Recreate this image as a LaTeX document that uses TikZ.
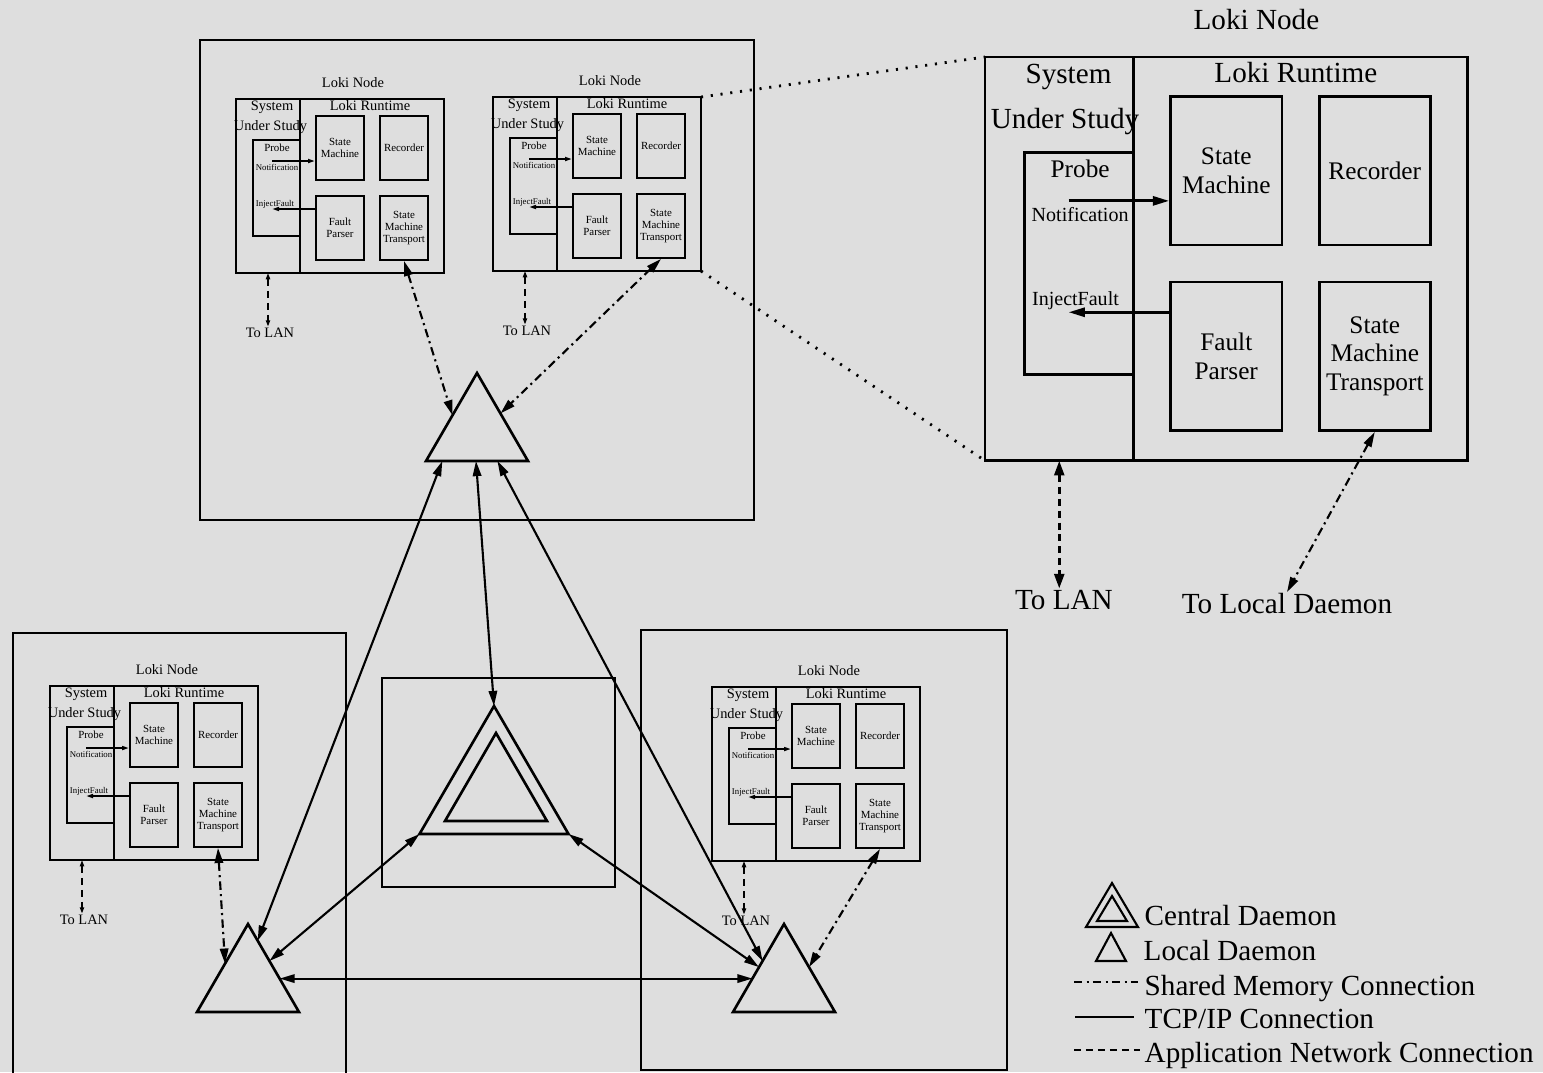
\documentclass[tikz,border=0pt]{standalone}
\usepackage{fontspec}
\setmainfont{Liberation Serif}
\usetikzlibrary{arrows.meta,calc}

\newcommand{\fsz}[1]{\fontsize{#1pt}{1.12\dimexpr#1pt\relax}\selectfont}

\tikzset{
  host/.style={line width=0.8pt},
  daemon/.style={line width=0.75pt, line join=miter},
  tcp/.style={line width=0.6pt, <->},
  shmem/.style={line width=0.6pt, dash pattern=on 2.4pt off 1.2pt on 0.6pt off 1.2pt},
  appnet/.style={dash pattern=on 2pt off 1.4pt},
  zoomline/.style={line width=0.8pt, dash pattern=on 0.6pt off 2.2pt},
  txt/.style={inner sep=0pt, anchor=base},
  part/.style={draw, inner sep=0pt, align=center},
  bigtxt/.style={inner sep=0pt, anchor=base, font=\fsz{8.3}}
}

% one Loki node: name, top left corner, scale, title size, box size, probe size
\newcommand{\lokinode}[6]{%
  \pgfmathsetmacro\lkw{0.3+0.22*#3}%
  \pgfmathsetmacro\lkbw{4.8*#3}%
  \pgfmathsetmacro\lkbh{6.4*#3}%
  \begin{scope}[shift={(#2)}, scale=#3, line width=\lkw pt]
    \draw (0,0) coordinate (#1-nw) rectangle (208,174) coordinate (#1-se);
    \coordinate (#1-ne) at (208,0);
    \coordinate (#1-sw) at (0,174);
    \draw (64,0) -- (64,174);
    \draw (64,41) -- (17,41) -- (17,137) -- (64,137);
    \node[txt, font=\fsz{#4}] (#1-title) at (117,-12) {Loki Node};
    \node[txt, font=\fsz{#4}] (#1-sys) at (36,11.5) {System};
    \node[txt, font=\fsz{#4}] (#1-under) at (34.5,31) {Under Study};
    \node[txt, font=\fsz{#4}] (#1-rt) at (134,11) {Loki Runtime};
    \node[txt, font=\fsz{#5}] (#1-probe) at (41,52) {Probe};
    \node[txt, font=\fsz{#6}] (#1-notif) at (41,71) {Notification};
    \node[txt, font=\fsz{#6}] (#1-inject) at (39,107) {InjectFault};
    % runtime parts
    \begin{scope}[every node/.style={part, font=\fsz{#5}, minimum width=\lkbw mm, minimum height=\lkbh mm}]
      \node (#1-sm) at (104,49) {State\\Machine};
      \node (#1-rec) at (168,49) {Recorder};
      \node (#1-fp) at (104,129) {Fault\\Parser};
      \node (#1-smt) at (168,129) {State\\Machine\\Transport};
    \end{scope}
    \coordinate (#1-out) at (36,62);
    \coordinate (#1-in) at (36,110);
    \draw[-{Triangle[length=2pt,width=1.1pt,scale=#3]}] (#1-out) -- (#1-out -| #1-sm.west);
    \draw[-{Triangle[length=2pt,width=1.1pt,scale=#3]}] (#1-in -| #1-fp.west) -- (#1-in);
    % to the LAN
    \node[txt, font=\fsz{#4}] (#1-tolan) at (34,238) {To LAN};
    \coordinate (#1-lan) at (32,174);
    \draw[appnet, {Triangle[length=1.8pt,width=1.2pt,scale=#3]}-{Triangle[length=1.8pt,width=1.2pt,scale=#3]}]
      (#1-lan) -- (#1-lan |- #1-tolan.north);
  \end{scope}}

% a daemon triangle: name, apex
\newcommand{\daemon}[2]{%
  \draw[daemon] (#2) coordinate (#1-t) -- ++(-51,88) coordinate (#1-l)
    -- ++(102,0) coordinate (#1-r) -- cycle;}

\begin{document}
\begin{tikzpicture}[x=0.1mm, y=-0.1mm, >={Triangle[length=4.3pt,width=2.4pt]}]
  \useasboundingbox (0,0) rectangle (1543,1072);
  \fill[black!13] (0,0) rectangle (1543,1072);

  % hosts
  \draw[host] (200,40) rectangle (754,520);
  \draw[host] (13,633) rectangle (346,1085);
  \draw[host] (641,630) rectangle (1007,1070);
  \draw[host] (382,678) rectangle (615,887);

  % loki nodes
  \lokinode{lkA}{236,99}{1}{4.1}{3.1}{2.5}
  \lokinode{lkB}{493,97}{1}{4.1}{3.1}{2.5}
  \lokinode{lkC}{50,686}{1}{4.1}{3.1}{2.5}
  \lokinode{lkD}{712,687}{1}{4.1}{3.1}{2.5}
  \lokinode{lkE}{985,57}{2.32}{8.3}{7.2}{5.7}

  \draw[zoomline] (lkB-ne) -- (lkE-nw);
  \draw[zoomline] (lkB-se) -- (lkE-sw);
  \node[bigtxt] (todaemon) at (1287,613) {To Local Daemon};
  \draw[shmem, <->] (lkE-smt.south) -- (todaemon.north);

  % daemons
  \daemon{dT}{477,373}
  \daemon{dL}{248,924}
  \daemon{dR}{784,924}
  \draw[daemon] (494,706) coordinate (dC-t) -- ++(-74.5,128) coordinate (dC-l)
    -- ++(149,0) coordinate (dC-r) -- cycle;
  \daemon{dCin}{496,733}

  % shared memory
  \draw[shmem, <->] (lkA-smt.south) -- ($(dT-t)!0.48!(dT-l)$);
  \draw[shmem, <->] (lkB-smt.south) -- ($(dT-t)!0.46!(dT-r)$);
  \draw[shmem, <->] (lkC-smt.south) -- ($(dL-t)!0.45!(dL-l)$);
  \draw[shmem, <->] (lkD-smt.south) -- ($(dR-t)!0.49!(dR-r)$);

  % tcp/ip
  \draw[tcp] ($(dT-l)!0.16!(dT-r)$) -- ($(dL-t)!0.19!(dL-r)$);
  \draw[tcp] ($(dT-l)!0.49!(dT-r)$) -- (dC-t);
  \draw[tcp] ($(dT-l)!0.7!(dT-r)$) -- ($(dR-t)!0.42!(dR-l)$);
  \draw[tcp] (dC-l) -- ($(dL-t)!0.42!(dL-r)$);
  \draw[tcp] (dC-r) -- ($(dR-t)!0.49!(dR-l)$);
  \draw[tcp] ($(dL-t)!0.62!(dL-r)$) -- ($(dR-t)!0.62!(dR-l)$);

  % legend
  \draw[daemon, line width=0.6pt] (1112,883) -- ++(-26,44) -- ++(52,0) -- cycle;
  \draw[daemon, line width=0.6pt] (1112,896) -- ++(-15,25) -- ++(30,0) -- cycle;
  \draw[daemon, line width=0.6pt] (1111,933) -- ++(-15,28) -- ++(30,0) -- cycle;
  \node[bigtxt, anchor=base west] (lg-central) at (1144,925) {Central Daemon};
  \node[bigtxt, anchor=base west] (lg-local) at (1143,960) {Local Daemon};
  \node[bigtxt, anchor=base west] (lg-shmem) at (1144,995) {Shared Memory Connection};
  \node[bigtxt, anchor=base west] (lg-tcp) at (1144,1028) {TCP/IP Connection};
  \node[bigtxt, anchor=base west] (lg-app) at (1144,1062) {Application Network Connection};
  \draw[shmem] (1074,982) -- (1138,982);
  \draw[line width=0.6pt] (1075,1017) -- (1134,1017);
  \draw[appnet, line width=0.6pt] (1074,1050) -- (1140,1050);
\end{tikzpicture}
\end{document}
